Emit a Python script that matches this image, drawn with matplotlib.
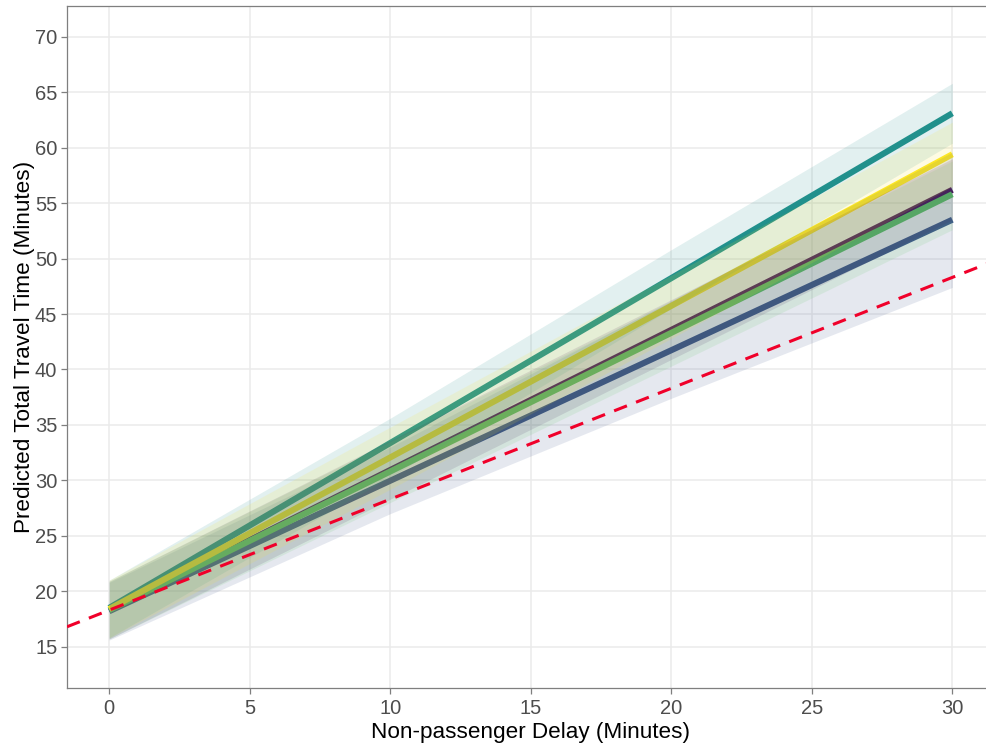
import matplotlib
matplotlib.use("Agg")
import matplotlib.pyplot as plt

# ---- data ----
groups = ["purple", "navy", "teal", "green", "yellow"]
colors = ["#440154", "#3B528B", "#21908C", "#5DC863", "#FDE725"]

x_line = [0, 30]
fit_purple = [18.3, 56.2]
fit_navy = [18.2, 53.5]
fit_teal = [18.5, 63.1]
fit_green = [18.3, 55.8]
fit_yellow = [18.4, 59.4]

x_band = [0, 10, 20, 30]
lo_purple = [15.7, 28.3, 40.9, 53.5]
hi_purple = [20.9, 33.6, 46.3, 59.0]
lo_navy = [15.6, 27.0, 37.4, 47.4]
hi_navy = [20.8, 33.0, 46.2, 59.6]
lo_teal = [15.8, 30.3, 45.5, 60.4]
hi_teal = [21.0, 35.6, 50.8, 65.8]
lo_green = [15.7, 28.0, 40.3, 52.6]
hi_green = [20.9, 33.5, 46.1, 58.8]
lo_yellow = [15.8, 29.2, 42.8, 56.5]
hi_yellow = [21.0, 34.8, 48.5, 62.3]

ref_intercept = 18.3
ref_slope = 1.0

x_ticks = [0, 5, 10, 15, 20, 25, 30]
y_ticks = [15, 20, 25, 30, 35, 40, 45, 50, 55, 60, 65, 70]

fits = [fit_purple, fit_navy, fit_teal, fit_green, fit_yellow]
los = [lo_purple, lo_navy, lo_teal, lo_green, lo_yellow]
his = [hi_purple, hi_navy, hi_teal, hi_green, hi_yellow]

plt.rcParams['font.family'] = ['Liberation Sans', 'DejaVu Sans']

W, H = 987, 746
fig = plt.figure(figsize=(W / 100, H / 100), dpi=100)
left_px, right_px, top_px, bot_px = 67, 994.5, 6, 688
ax = fig.add_axes([left_px / W, 1 - bot_px / H, (right_px - left_px) / W, (bot_px - top_px) / H])

for f, c in zip(fits, colors):
    ax.plot(x_line, f, color=c, lw=4.4, solid_capstyle='butt', zorder=3)
for lo, hi, c in zip(los, his, colors):
    ax.fill_between(x_band, lo, hi, color=c, alpha=0.13, lw=0, zorder=4)

ax.axline((0, ref_intercept), slope=ref_slope, color="#F0002A", lw=2.2,
          dashes=(4.5, 3.2), zorder=5)

ax.set_xlim(-1.5, 31.5)
ax.set_ylim(11.28, 72.77)
ax.set_xticks(x_ticks)
ax.set_yticks(y_ticks)
ax.grid(True, color="#EBEBEB", lw=1.1, zorder=0)
ax.set_axisbelow(True)
for s in ax.spines.values():
    s.set_color("#7F7F7F")
    s.set_linewidth(0.9)
ax.tick_params(axis='both', colors="#7F7F7F", labelcolor="#4D4D4D", labelsize=14.5,
               length=4, width=0.9)
ax.tick_params(axis='x', pad=4)
ax.tick_params(axis='y', pad=3)
ax.set_xlabel("Non-passenger Delay (Minutes)", fontsize=16.2, color="black", labelpad=3)
ax.set_ylabel("Predicted Total Travel Time (Minutes)", fontsize=16.2, color="black", labelpad=0)

fig.savefig("out.png", dpi=100)
